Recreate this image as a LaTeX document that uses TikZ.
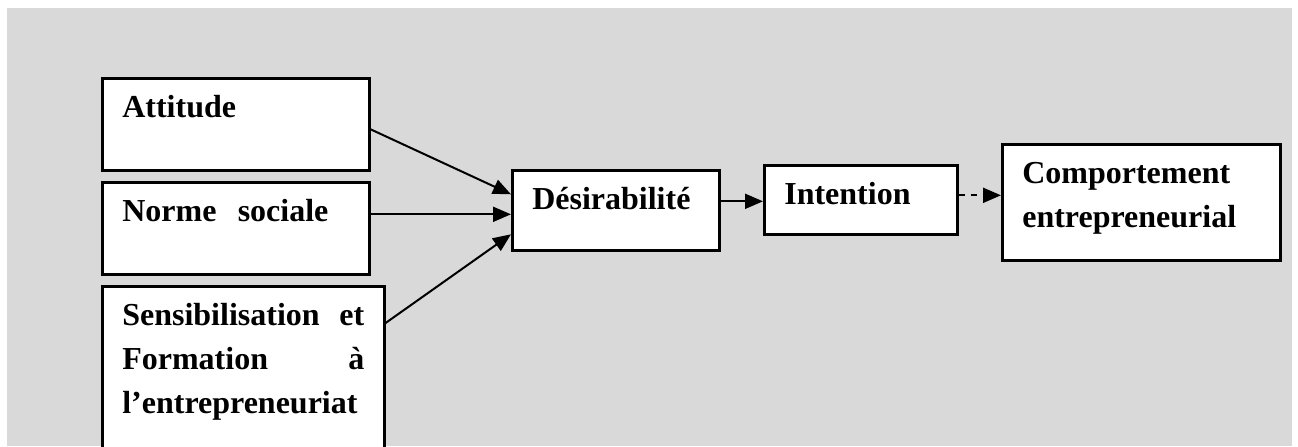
\documentclass[tikz,border=0pt]{standalone}
\usepackage{fontspec}
\setmainfont{Liberation Serif}
\usetikzlibrary{arrows.meta,calc}
\definecolor{fondgris}{HTML}{D9D9D9}
\tikzset{
  facteur/.style={draw=black,line width=1.3pt,fill=white,anchor=north west,inner xsep=10pt,inner ysep=0pt,align=left,text height=19.5pt,font=\bfseries\fontsize{16}{22}\selectfont},
  lien/.style={-{Triangle[length=9pt,width=7.5pt]},line width=1pt,draw=black},
  lienpt/.style={lien,dash pattern=on 3pt off 3pt}
}
\begin{document}
\begin{tikzpicture}[x=0.5pt,y=-0.5pt]
\useasboundingbox (0,0) rectangle (1298,446);
\clip (0,0) rectangle (1298,446);
\fill[fondgris] (7,8) rectangle (1292,446);
\node[facteur,text width=113.5pt,text depth=26.5pt] (att) at (101,77) {Attitude};
\node[facteur,text width=113.5pt,text depth=26.5pt] (norme) at (101,181) {Norme\ \ sociale};
\node[facteur,text width=121pt,text depth=75pt] (sens) at (101,285) {Sensibilisation\hfill et\\Formation\hfill à\\l’entrepreneuriat};
\node[facteur,text width=83.5pt,text depth=20.5pt] (des) at (511,169) {Désirabilité};
\node[facteur,text width=76.5pt,text depth=15pt] (int) at (763,164) {Intention};
\node[facteur,text width=119pt,text depth=38.5pt] (comp) at (1001,143) {Comportement\\entrepreneurial};
\draw[lien] ([yshift=-2.5pt]att.east) -- ([yshift=8pt]des.west);
\draw[lien] ([yshift=7pt]norme.east) coordinate (n1) -- (n1 -| des.west);
\draw[lien] ([yshift=-19pt]sens.north east) -- ([yshift=-12pt]des.west);
\draw[lien] ([yshift=4.5pt]des.east) coordinate (d1) -- (d1 -| int.west);
\draw[lienpt] ([yshift=2.25pt]int.east) coordinate (i1) -- (i1 -| comp.west);
\end{tikzpicture}
\end{document}
